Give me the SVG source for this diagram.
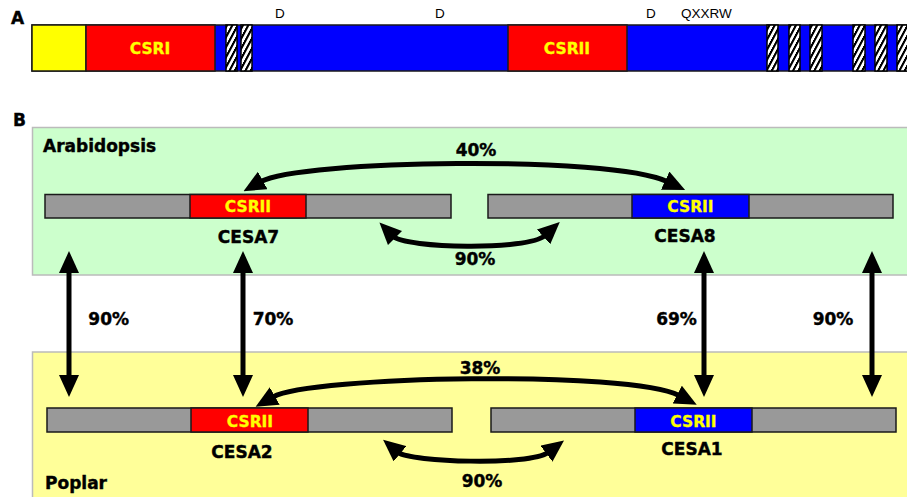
<svg xmlns="http://www.w3.org/2000/svg" width="907" height="497" viewBox="0 0 907 497">
<style>
.bold{font-family:"DejaVu Sans",Verdana,sans-serif;font-weight:bold;}
.lbl{font-size:17px;fill:#000;stroke:#000;stroke-width:0.4;}
.csr{font-size:15.5px;fill:#FFFF00;stroke:#FFFF00;stroke-width:0.3;text-anchor:middle;}
.pct{font-size:17px;fill:#000;stroke:#000;stroke-width:0.4;text-anchor:middle;}
.mid{text-anchor:middle;}
.small{font-family:"Liberation Sans",Arial,sans-serif;font-size:13.5px;fill:#000;}
.seg{stroke:#1a1a1a;stroke-width:1.5;}
.gray{fill:#999999;}
.red{fill:#FF0000;}
.blue{fill:#0000FF;}
.hatch{fill:url(#hatch);stroke:#000;stroke-width:1.5;}
.conn{fill:none;stroke:#000;stroke-width:5;}
.dbl{marker-start:url(#ah);marker-end:url(#ah);}
</style>
<defs>
<pattern id="hatch" patternUnits="userSpaceOnUse" width="20" height="10" patternTransform="skewY(-62)">
<rect x="0" y="0" width="20" height="10" fill="#fff"/>
<rect x="0" y="0" width="20" height="4.5" fill="#000"/>
</pattern>
<marker id="ah" viewBox="0 0 22 20" markerWidth="22" markerHeight="20" markerUnits="userSpaceOnUse" refX="2" refY="10" orient="auto-start-reverse">
<path d="M0,0 L22,10 L0,20 z" fill="#000"/>
</marker>
</defs>
<rect x="0" y="0" width="907" height="497" fill="#fff"/>

<g id="panelA">
<text class="bold lbl" x="11" y="24" font-size="18">A</text>
<text class="small" x="275" y="18">D</text>
<text class="small" x="435" y="18">D</text>
<text class="small" x="646" y="18">D</text>
<text class="small" x="681" y="18">QXXRW</text>
<rect class="seg" x="32" y="25" width="875" height="46" fill="#0000FF"/>
<rect class="seg" x="32" y="25" width="54" height="46" fill="#FFFF00"/>
<rect class="seg red" x="86" y="25" width="129" height="46"/>
<text class="bold csr" x="150" y="54">CSRI</text>
<rect class="seg red" x="508" y="25" width="119" height="46"/>
<text class="bold csr" x="567" y="54">CSRII</text>
<rect class="hatch" x="226" y="25" width="11" height="46"/>
<rect class="hatch" x="241" y="25" width="11" height="46"/>
<rect class="hatch" x="767" y="25" width="11" height="46"/>
<rect class="hatch" x="789" y="25" width="11" height="46"/>
<rect class="hatch" x="810" y="25" width="12" height="46"/>
<rect class="hatch" x="853" y="25" width="12" height="46"/>
<rect class="hatch" x="875" y="25" width="12" height="46"/>
<rect class="hatch" x="897" y="25" width="12" height="46"/>
</g>

<g id="panelB">
<text class="bold lbl" x="13" y="126" font-size="18">B</text>
<rect x="32.5" y="127.5" width="880" height="147.5" fill="#CCFFCC" stroke="#BBBBBB" stroke-width="1.5"/>
<rect x="32.5" y="352" width="880" height="150" fill="#FFFF99" stroke="#BBBBBB" stroke-width="1.5"/>
<text class="bold lbl" x="43" y="152">Arabidopsis</text>
<text class="bold lbl" x="45" y="489">Poplar</text>
</g>

<g id="CESA7">
<rect class="seg gray" x="45" y="194.5" width="406" height="23.5"/>
<rect class="seg red" x="190" y="194.5" width="116" height="23.5"/>
<text class="bold csr" x="248" y="212">CSRII</text>
<text class="bold lbl mid" x="248.5" y="243">CESA7</text>
</g>

<g id="CESA8">
<rect class="seg gray" x="488" y="194.5" width="405" height="23.5"/>
<rect class="seg blue" x="632" y="194.5" width="117" height="23.5"/>
<text class="bold csr" x="690.5" y="212">CSRII</text>
<text class="bold lbl mid" x="685" y="242">CESA8</text>
</g>

<g id="CESA2">
<rect class="seg gray" x="47" y="408" width="405" height="24"/>
<rect class="seg red" x="191" y="408" width="117" height="24"/>
<text class="bold csr" x="250" y="426.5">CSRII</text>
<text class="bold lbl mid" x="242" y="458">CESA2</text>
</g>

<g id="CESA1">
<rect class="seg gray" x="491" y="408" width="405" height="24"/>
<rect class="seg blue" x="635" y="408" width="117" height="24"/>
<text class="bold csr" x="693.5" y="426.5">CSRII</text>
<text class="bold lbl mid" x="692" y="455">CESA1</text>
</g>

<g id="connectors">
<path class="conn dbl" d="M261,181.5 C300,160 610,155 667,181.5"/>
<path class="conn dbl" d="M393.6,236.6 C405,248 528,251 545,235.5"/>
<path class="conn dbl" d="M273,397 C310,376 630,370 679,395.5"/>
<path class="conn dbl" d="M398.5,452.5 C410,462 530,466 548,452.5"/>
<path class="conn dbl" d="M69,271 L69,377"/>
<path class="conn dbl" d="M243,271 L243,377"/>
<path class="conn dbl" d="M704,271 L704,377"/>
<path class="conn dbl" d="M872,271 L872,377"/>
<text class="bold pct" x="476" y="156">40%</text>
<text class="bold pct" x="475" y="265">90%</text>
<text class="bold pct" x="480" y="374">38%</text>
<text class="bold pct" x="482" y="487">90%</text>
<text class="bold pct" x="108.7" y="325">90%</text>
<text class="bold pct" x="273" y="325">70%</text>
<text class="bold pct" x="676.5" y="325">69%</text>
<text class="bold pct" x="833" y="325">90%</text>
</g>
</svg>
